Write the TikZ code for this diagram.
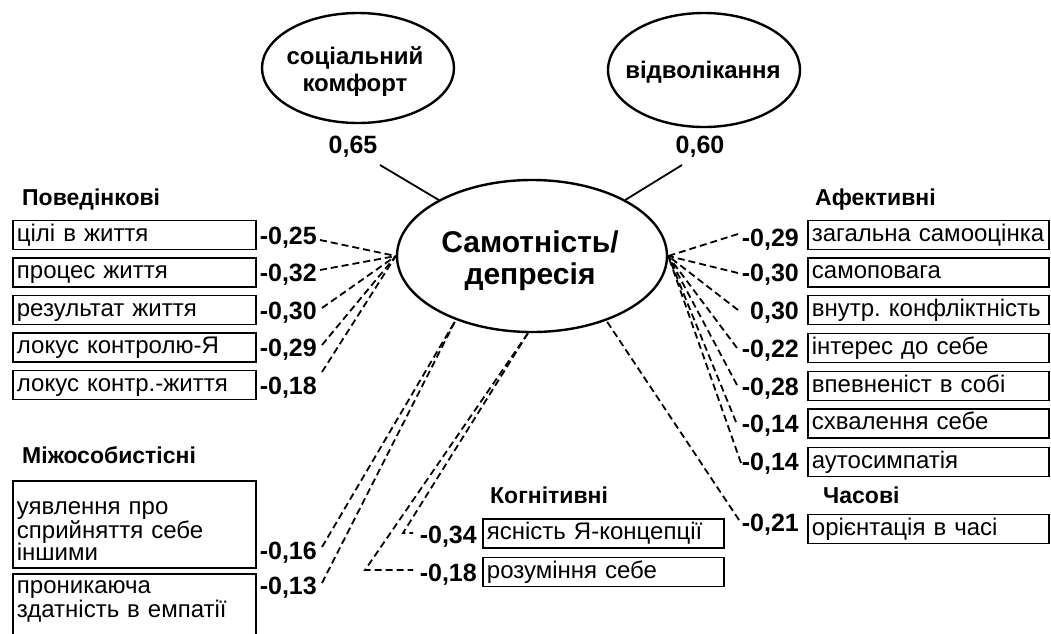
\documentclass[tikz,border=0pt]{standalone}
\usepackage{fontspec}
\setmainfont{Liberation Sans}
\usetikzlibrary{shapes.geometric}
\newcommand{\myfs}[2]{\fontsize{#1}{#2}\selectfont}
\frenchspacing
\begin{document}
\begin{tikzpicture}[x=1pt,y=1pt,
  ell/.style={draw, ellipse, line width=2.4pt, inner sep=0pt},
  etext/.style={font=\bfseries\myfs{24}{27}, align=center, inner sep=0pt},
  ebox/.style={draw, line width=1.8pt, anchor=west, minimum height=28pt, text width=235pt, inner sep=4pt, align=left, text height=16.5pt, text depth=4.5pt, font=\myfs{24}{24}},
  mbox/.style={draw, line width=1.8pt, anchor=north west, text width=235pt, inner sep=4pt, align=left},
  num/.style={anchor=east, font=\bfseries\myfs{25}{25}, inner sep=0pt, text height=18pt, text depth=0pt},
  hdr/.style={anchor=west, font=\bfseries\myfs{23}{23}, inner sep=0pt, text height=17pt, text depth=0pt},
  dl/.style={line width=1.8pt, dash pattern=on 7pt off 4pt},
  sl/.style={line width=1.8pt}]
\useasboundingbox (0,0) rectangle (1051,-633);

% ellipses
\node[ell, minimum width=192pt, minimum height=110pt] (sc) at (358,-68) {};
\node[etext] (sct) at (355,-72) {соціальний\\комфорт};
\node[ell, minimum width=192pt, minimum height=114pt] (vd) at (704,-70) {};
\node[etext] (vdt) at (703,-72) {відволікання};
\node[ell, minimum width=270pt, minimum height=152pt] (c) at (532,-256) {};
\node[font=\bfseries\myfs{30}{32}, align=center, inner sep=0pt] (ct) at (530,-261) {Самотність/\\депресія};

% top loadings
\node[font=\bfseries\myfs{25}{25}, inner sep=0pt] (n65) at (353,-147) {0,65};
\node[font=\bfseries\myfs{25}{25}, inner sep=0pt] (n60) at (700,-147) {0,60};
\coordinate (p65) at (380,-165);
\coordinate (p60) at (682,-165);
\draw[sl] (p65) -- (c.149);
\draw[sl] (p60) -- (c.31);

% behavioural
\node[hdr] (hb) at (22,-197) {Поведінкові};
\node[ebox] (b1) at (12,-235) {цілі в життя};
\node[ebox] (b2) at (12,-272.5) {процес життя};
\node[ebox] (b3) at (12,-310) {результат життя};
\node[ebox] (b4) at (12,-347.5) {локус контролю-Я};
\node[ebox] (b5) at (12,-385) {локус контр.-життя};
\node[num] (n1) at (317,-235) {-0,25};
\node[num] (n2) at (317,-272.5) {-0,32};
\node[num] (n3) at (317,-310) {-0,30};
\node[num] (n4) at (317,-347.5) {-0,29};
\node[num] (n5) at (317,-385) {-0,18};
\coordinate (e1) at (320,-240);
\coordinate (e2) at (320,-270);
\coordinate (e3) at (322,-308);
\coordinate (e4) at (322,-345);
\coordinate (e5) at (322,-372);
\draw[dl] (e1) -- (c.west);
\draw[dl] (e2) -- (c.west);
\draw[dl] (e3) -- (c.west);
\draw[dl] (e4) -- (c.west);
\draw[dl] (e5) -- (c.west);

% interpersonal
\node[hdr] (hm) at (22,-455) {Міжособистісні};
\node[mbox, font=\myfs{24}{22.5}, text height=26pt, minimum height=87pt] (b6) at (12,-480) {уявлення про\\сприйняття себе\\іншими};
\node[mbox, font=\myfs{24}{22}, text height=16pt, text depth=42pt] (b7) at (12,-573) {проникаюча\\здатність в емпатії};
\node[num] (n6) at (317,-550) {-0,16};
\node[num] (n7) at (317,-585) {-0,13};
\coordinate (m1) at (322,-547);
\coordinate (m2) at (322,-583);
\draw[dl] (m1) -- (c.-140);
\draw[dl] (m2) -- (c.-140);

% cognitive
\node[hdr] (hk) at (490,-495) {Когнітивні};
\node[ebox, text width=233pt] (k1) at (482,-533.5) {ясність Я-концепції};
\node[ebox, text width=233pt] (k2) at (482,-572) {розуміння себе};
\node[num] (nk1) at (477,-534) {-0,34};
\node[num] (nk2) at (477,-572) {-0,18};
\coordinate (ka) at (403,-533);
\coordinate (kb) at (413,-533);
\coordinate (kc) at (365,-570);
\coordinate (kd) at (413,-570);
\draw[dl] (c.-93) -- (ka) -- (kb);
\draw[dl] (c.-93) -- (kc) -- (kd);

% affective
\node[hdr] (ha) at (815,-197) {Афективні};
\node[ebox, text width=233pt] (a1) at (807,-235) {загальна самооцінка};
\node[ebox, text width=233pt] (a2) at (807,-272.5) {самоповага};
\node[ebox, text width=233pt] (a3) at (807,-310) {внутр. конфліктність};
\node[ebox, text width=233pt] (a4) at (807,-348) {інтерес до себе};
\node[ebox, text width=233pt] (a5) at (807,-386) {впевненіст в собі};
\node[ebox, text width=233pt] (a6) at (807,-423.5) {схвалення себе};
\node[ebox, text width=233pt] (a7) at (807,-462) {аутосимпатія};
\node[num] (na1) at (799,-237) {-0,29};
\node[num] (na2) at (799,-272) {-0,30};
\node[num] (na3) at (799,-310) {0,30};
\node[num] (na4) at (799,-348) {-0,22};
\node[num] (na5) at (799,-386) {-0,28};
\node[num] (na6) at (799,-423) {-0,14};
\node[num] (na7) at (799,-461) {-0,14};
\coordinate (r1) at (738,-234);
\coordinate (r2) at (738,-273);
\coordinate (r3) at (738,-310);
\coordinate (r4) at (737,-348);
\coordinate (r5) at (737,-385);
\coordinate (r6) at (736,-422);
\coordinate (r7) at (741,-463);
\draw[dl] (r1) -- (c.east);
\draw[dl] (r2) -- (c.east);
\draw[dl] (r3) -- (c.east);
\draw[dl] (r4) -- (c.east);
\draw[dl] (r5) -- (c.east);
\draw[dl] (r6) -- (c.east);
\draw[dl] (r7) -- (c.east);

% temporal
\node[hdr] (ht) at (823,-495) {Часові};
\node[ebox, text width=233pt] (a8) at (807,-529) {орієнтація в часі};
\node[num] (na8) at (799,-522) {-0,21};
\coordinate (r8) at (739,-520);
\draw[dl] (r8) -- (c.-41);
\end{tikzpicture}
\end{document}
